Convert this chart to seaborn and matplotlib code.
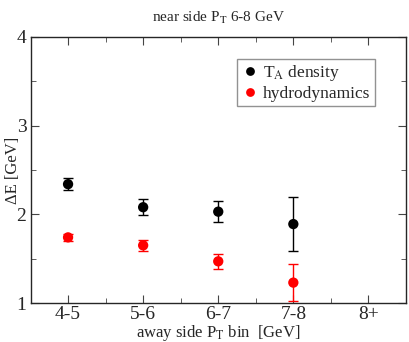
import numpy as np
import pandas as pd
import matplotlib
matplotlib.use("Agg")
import matplotlib.pyplot as plt
import seaborn as sns

# data
bins = ["4-5", "5-6", "6-7", "7-8", "8+"]
ta_bins = ["4-5", "5-6", "6-7", "7-8"]
ta_dE = [2.34, 2.08, 2.03, 1.89]
ta_err = [0.07, 0.09, 0.12, 0.30]
hydro_bins = ["4-5", "5-6", "6-7", "7-8"]
hydro_dE = [1.74, 1.65, 1.47, 1.23]
hydro_err = [0.04, 0.06, 0.085, 0.21]

pos = {b: i + 1 for i, b in enumerate(bins)}
df = pd.DataFrame({
    "x": [pos[b] for b in ta_bins] + [pos[b] for b in hydro_bins],
    "dE": ta_dE + hydro_dE,
    "err": ta_err + hydro_err,
    "model": ["T$_\\mathrm{A}$ density"] * len(ta_bins) + ["hydrodynamics"] * len(hydro_bins),
})
palette = {"T$_\\mathrm{A}$ density": "black", "hydrodynamics": "red"}

sns.set_style("ticks")
plt.rcParams["font.family"] = ["Liberation Serif", "DejaVu Serif"]
plt.rcParams["mathtext.fontset"] = "stix"

fig = plt.figure(figsize=(4.09, 3.42), dpi=100)
ax = fig.add_axes([0.0746, 0.114, 0.918, 0.778])

for name, sub in df.groupby("model", sort=False):
    ax.errorbar(sub["x"], sub["dE"], yerr=sub["err"], fmt="none",
                ecolor=palette[name], elinewidth=1, capsize=3.5, capthick=1)
sns.scatterplot(data=df, x="x", y="dE", hue="model", palette=palette,
                s=55, edgecolor="none", ax=ax, zorder=3)

ax.set_xlim(0.5, 5.5)
ax.set_ylim(1, 4)
ax.set_xticks(range(1, len(bins) + 1))
ax.set_xticklabels(bins)
ax.set_xticks(np.arange(1.5, 5.5, 1), minor=True)
ax.set_yticks([1, 2, 3, 4])
ax.set_yticks([1.5, 2.5, 3.5], minor=True)
ax.tick_params(which="both", direction="in", top=True, right=True,
               labelsize=14, color="#444444")
ax.tick_params(axis="x", pad=2)
ax.tick_params(axis="y", pad=3)
ax.tick_params(which="major", length=6)
ax.tick_params(which="minor", length=3.5)
for sp in ax.spines.values():
    sp.set_linewidth(1)

ax.set_xlabel("away side P$_\\mathrm{T}$ bin  [GeV]", fontsize=12)
ax.xaxis.set_label_coords(0.5, -0.077)
ax.set_ylabel("ΔE [GeV]", fontsize=12)
ax.yaxis.set_label_coords(-0.025, 0.5)
ax.set_title("near side P$_\\mathrm{T}$ 6-8 GeV", fontsize=11, pad=11)

leg = ax.legend(loc="upper left", bbox_to_anchor=(0.55, 0.917), fontsize=12.5,
                frameon=True, fancybox=False, edgecolor="#777777",
                borderaxespad=0, handletextpad=0.25, borderpad=0.25,
                labelspacing=0.12, handlelength=1.0, markerscale=0.85)
leg.get_frame().set_linewidth(1)

fig.savefig("out.png", dpi=100)
